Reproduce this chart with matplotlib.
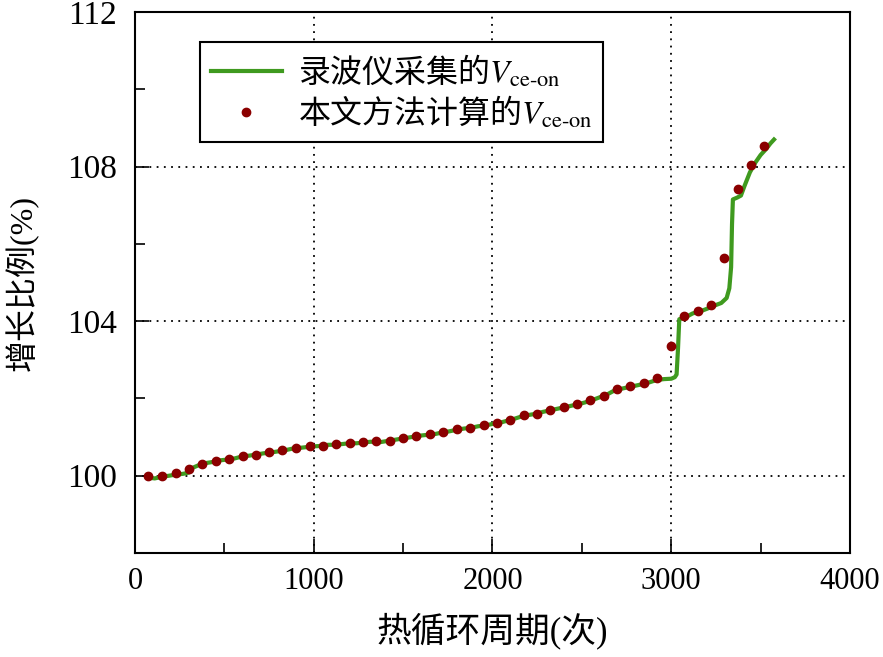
import matplotlib
matplotlib.use("Agg")
import matplotlib.pyplot as plt
from matplotlib.ticker import MultipleLocator

# FONTS

plt.rcParams["font.family"] = ["Liberation Serif", "Noto Sans CJK SC"]
plt.rcParams["mathtext.fontset"] = "stix"
plt.rcParams["axes.unicode_minus"] = False

# DATA - recorder curve

line_x = [
    75, 110, 150, 190, 230, 270, 300, 320, 360, 400, 440, 480, 520, 560,
    600, 640, 680, 720, 760, 800, 840, 880, 920, 960, 1000, 1040, 1080,
    1120, 1160, 1200, 1240, 1280, 1320, 1360, 1400, 1440, 1480, 1520,
    1560, 1600, 1640, 1680, 1720, 1760, 1800, 1840, 1880, 1920, 1960,
    2000, 2040, 2080, 2120, 2160, 2200, 2240, 2280, 2320, 2360, 2400,
    2440, 2480, 2520, 2560, 2600, 2640, 2680, 2720, 2760, 2800, 2840,
    2880, 2920, 2960, 3000, 3020, 3030, 3038, 3045, 3080, 3120, 3160,
    3200, 3240, 3280, 3310, 3325, 3335, 3340, 3345, 3370, 3390, 3410,
    3440, 3470, 3500, 3530, 3555, 3575
]
line_y = [
    99.95, 99.93, 99.97, 100.0, 100.03, 100.05, 100.08, 100.2, 100.28,
    100.33, 100.36, 100.40, 100.42, 100.45, 100.50, 100.52, 100.55,
    100.58, 100.60, 100.63, 100.66, 100.70, 100.72, 100.74, 100.76,
    100.77, 100.80, 100.80, 100.82, 100.84, 100.84, 100.86, 100.88,
    100.86, 100.89, 100.92, 100.95, 100.98, 101.01, 101.04, 101.06,
    101.08, 101.12, 101.15, 101.19, 101.22, 101.24, 101.28, 101.30,
    101.34, 101.37, 101.42, 101.47, 101.53, 101.57, 101.60, 101.65,
    101.69, 101.73, 101.77, 101.81, 101.85, 101.90, 101.96, 102.03,
    102.10, 102.20, 102.25, 102.29, 102.33, 102.37, 102.42, 102.48,
    102.50, 102.51, 102.55, 102.62, 103.3, 104.05, 104.10, 104.20,
    104.25, 104.32, 104.40, 104.47, 104.6, 104.85, 105.4, 106.5, 107.15,
    107.2, 107.25, 107.5, 107.85, 108.1, 108.3, 108.45, 108.6, 108.7
]

# DATA - calculated points

dot_x = [
    74, 152, 227, 303, 376, 451, 527, 602, 676, 750, 825, 899, 978,
    1049, 1127, 1201, 1275, 1350, 1425, 1499, 1574, 1652, 1722, 1801,
    1872, 1950, 2024, 2099, 2177, 2248, 2322, 2398, 2473, 2547, 2622,
    2697, 2771, 2845, 2923, 2998, 3073, 3147, 3222, 3298, 3373, 3447,
    3521
]
dot_y = [
    99.98, 100.0, 100.06, 100.17, 100.30, 100.38, 100.43, 100.51,
    100.54, 100.61, 100.66, 100.72, 100.76, 100.78, 100.82, 100.84,
    100.86, 100.91, 100.90, 100.98, 101.03, 101.08, 101.12, 101.21,
    101.24, 101.32, 101.37, 101.45, 101.56, 101.61, 101.71, 101.78,
    101.85, 101.97, 102.07, 102.24, 102.31, 102.41, 102.52, 103.36,
    104.14, 104.26, 104.41, 105.63, 107.42, 108.03, 108.52
]

label_line = "录波仪采集的$V_{\\mathrm{ce\\text{-}on}}$"
label_dots = "本文方法计算的$V_{\\mathrm{ce\\text{-}on}}$"

# PLOT

fig = plt.figure(figsize=(8.83, 6.57), dpi=100)
ax = fig.add_axes([0.1529, 0.1583, 0.8097, 0.8234])

ax.plot(line_x, line_y, color="#3f9a1f", linewidth=3, label=label_line, zorder=3)
ax.plot(dot_x, dot_y, linestyle="none", marker="o", markersize=6,
        color="#8b0000", label=label_dots, zorder=4)

ax.set_xlim(0, 4000)
ax.set_ylim(98, 112)
ax.xaxis.set_major_locator(MultipleLocator(1000))
ax.xaxis.set_minor_locator(MultipleLocator(500))
ax.yaxis.set_major_locator(MultipleLocator(4))
ax.yaxis.set_minor_locator(MultipleLocator(2))

ax.grid(True, which="major", color="black", linestyle=(0, (1, 3)), linewidth=1.3)

ax.tick_params(which="both", direction="in", top=False, right=False, width=1.2)
ax.tick_params(which="major", length=10)
ax.tick_params(which="minor", length=7)
ax.tick_params(axis="x", labelsize=22, pad=10)
ax.tick_params(axis="y", labelsize=24, pad=13)
for s in ax.spines.values():
    s.set_linewidth(1.5)

ax.set_xlabel("热循环周期(次)", fontsize=25, labelpad=12)
ax.set_ylabel("增长比例(%)", fontsize=23, labelpad=20)

leg = ax.legend(loc="upper left", bbox_to_anchor=(0.091, 0.9445),
                prop={"family": "Noto Sans CJK SC", "size": 23},
                frameon=True, fancybox=False, handlelength=2.2,
                borderpad=0.35, labelspacing=0.15, handletextpad=0.5,
                borderaxespad=0)
leg.get_frame().set_edgecolor("black")
leg.get_frame().set_linewidth(1.5)
leg.get_frame().set_alpha(1)

fig.savefig("out.png", dpi=100)
